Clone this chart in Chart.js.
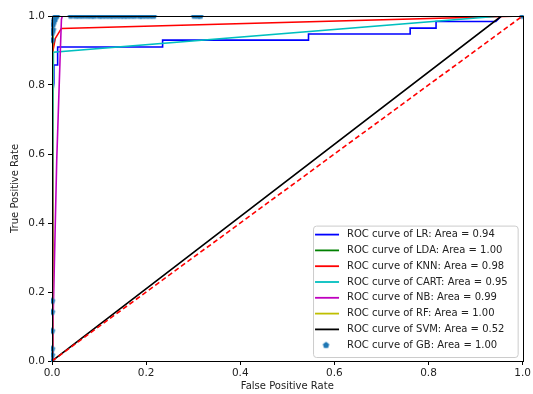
<!DOCTYPE html>
<html>
<head>
<meta charset="utf-8">
<script src="https://cdn.jsdelivr.net/npm/chart.js@4.4.1/dist/chart.umd.min.js"></script>
<style>
  html, body { margin: 0; padding: 0; background: #fff; }
  #wrap { position: relative; width: 533px; height: 394px; }
</style>
</head>
<body>
<div id="wrap"><canvas id="roc"></canvas></div>
<script>
// ROC curves
const modelNames = ["LR", "LDA", "KNN", "CART", "NB", "RF", "SVM", "GB"];
const modelAuc = ["0.94", "1.00", "0.98", "0.95", "0.99", "1.00", "0.52", "1.00"];

const lrFpr = [0, 0, 0.004, 0.004, 0.012, 0.012, 0.235, 0.235, 0.545, 0.545, 0.761, 0.761, 0.816, 0.816, 0.943, 0.955, 1];
const lrTpr = [0, 0.76, 0.805, 0.858, 0.858, 0.91, 0.91, 0.93, 0.93, 0.948, 0.948, 0.965, 0.965, 0.984, 0.984, 1, 1];

const ldaFpr = [0, 0.002, 0.002, 0.004, 1];
const ldaTpr = [0, 0.02, 0.99, 1, 1];

const knnFpr = [0, 0.002, 0.007, 0.02, 1];
const knnTpr = [0, 0.9, 0.935, 0.964, 1];

const cartFpr = [0, 0.003, 0.954, 1];
const cartTpr = [0, 0.895, 1, 1];

const nbFpr = [0, 0.002, 0.01, 0.017, 0.02, 0.022, 1];
const nbTpr = [0, 0.1, 0.58, 0.87, 0.99, 1, 1];

const rfFpr = [0, 0, 0.002, 0.004, 1];
const rfTpr = [0, 0.9, 0.95, 1, 1];

const svmFpr = [0, 0.955, 1];
const svmTpr = [0, 1, 1];

const gbFpr = [0, 0, 0, 0, 0, 0, 0, 0, 0.002, 0.002, 0.004, 0.006, 0.008, 0.01,
  0.04, 0.05, 0.058, 0.066, 0.075, 0.083, 0.09, 0.1, 0.107, 0.115, 0.123, 0.13,
  0.138, 0.146, 0.153, 0.16, 0.168, 0.176, 0.186, 0.192, 0.2, 0.208, 0.216,
  0.302, 0.31, 0.315, 1];
const gbTpr = [0, 0.017, 0.035, 0.087, 0.142, 0.174, 0.93, 0.95, 0.96, 0.975, 0.985, 0.99, 1, 1,
  1, 1, 1, 1, 1, 1, 1, 1, 1, 1, 1, 1,
  1, 1, 1, 1, 1, 1, 1, 1, 1, 1, 1,
  1, 1, 1, 1];

const chanceFpr = [0, 1];
const chanceTpr = [0, 1];

const xTicks = [0, 0.2, 0.4, 0.6, 0.8, 1.0];
const yTicks = [0, 0.2, 0.4, 0.6, 0.8, 1.0];

const COLORS = {
  LR: "#0000ff",
  LDA: "#008000",
  KNN: "#ff0000",
  CART: "#00bfbf",
  NB: "#bf00bf",
  RF: "#bfbf00",
  SVM: "#000000",
  GB: "#1f77b4",
};

const FONT = "'DejaVu Sans', sans-serif";

function pts(xs, ys) {
  return xs.map((x, i) => ({ x, y: ys[i] }));
}

// matplotlib 'p' marker
function pentagon(r, color) {
  const c = document.createElement("canvas");
  const s = Math.ceil(r * 2 + 2);
  c.width = s; c.height = s;
  const g = c.getContext("2d");
  g.fillStyle = color;
  g.beginPath();
  for (let k = 0; k < 5; k++) {
    const a = -Math.PI / 2 + k * 2 * Math.PI / 5;
    const px = s / 2 + r * Math.cos(a), py = s / 2 + r * Math.sin(a);
    k ? g.lineTo(px, py) : g.moveTo(px, py);
  }
  g.closePath();
  g.fill();
  return c;
}
const gbMarker = pentagon(3.4, COLORS.GB);

const curves = [
  [lrFpr, lrTpr], [ldaFpr, ldaTpr], [knnFpr, knnTpr], [cartFpr, cartTpr],
  [nbFpr, nbTpr], [rfFpr, rfTpr], [svmFpr, svmTpr], [gbFpr, gbTpr],
];

const datasets = modelNames.map((name, i) => {
  const isGB = name === "GB";
  return {
    label: `ROC curve of ${name}: Area = ${modelAuc[i]}`,
    data: pts(curves[i][0], curves[i][1]),
    borderColor: COLORS[name],
    backgroundColor: COLORS[name],
    borderWidth: 1.6,
    showLine: !isGB,
    pointRadius: isGB ? 3.4 : 0,
    pointStyle: isGB ? gbMarker : "circle",
    clip: isGB ? 1 : undefined,
    order: 20 - i, // later series drawn on top, like pyplot
  };
});
datasets.push({
  label: "",
  data: pts(chanceFpr, chanceTpr),
  borderColor: "#ff0000",
  borderWidth: 1.6,
  borderDash: [5, 3],
  showLine: true,
  pointRadius: 0,
  order: 1,
});

// legend box in the lower right of the axes
const innerLegend = {
  id: "innerLegend",
  afterDraw(chart) {
    const { ctx, chartArea } = chart;
    const items = chart.data.datasets.filter(d => d.label);
    ctx.save();
    ctx.font = `10px ${FONT}`;
    const textW = Math.max(...items.map(d => ctx.measureText(d.label).width));
    const rowH = 15.8;
    const w = textW + 44, h = items.length * rowH + 5;
    const x0 = chartArea.right - 5 - w, y0 = chartArea.bottom - 4 - h;
    ctx.fillStyle = "rgba(255,255,255,0.85)";
    ctx.strokeStyle = "#cccccc";
    ctx.lineWidth = 1;
    ctx.beginPath();
    ctx.roundRect(x0 + 0.5, y0 + 0.5, w, h, 3);
    ctx.fill();
    ctx.stroke();
    items.forEach((d, i) => {
      const cy = y0 + 9 + i * rowH;
      if (d.showLine === false) {
        ctx.drawImage(d.pointStyle, x0 + 13 - d.pointStyle.width / 2, cy - d.pointStyle.height / 2);
      } else {
        ctx.strokeStyle = d.borderColor;
        ctx.lineWidth = 1.8;
        ctx.beginPath();
        ctx.moveTo(x0 + 2, cy);
        ctx.lineTo(x0 + 26, cy);
        ctx.stroke();
      }
      ctx.fillStyle = "#222";
      ctx.textBaseline = "middle";
      ctx.fillText(d.label, x0 + 34, cy);
    });
    ctx.restore();
  },
};

// full box around the axes, on top of the curves
const frame = {
  id: "frame",
  afterDatasetsDraw(chart) {
    const { ctx, chartArea: a } = chart;
    ctx.save();
    ctx.strokeStyle = "#000";
    ctx.lineWidth = 1;
    ctx.strokeRect(Math.round(a.left) + 0.5, Math.round(a.top) + 0.5,
      Math.round(a.right - a.left), Math.round(a.bottom - a.top));
    ctx.restore();
  },
};

const tickFmt = v => Number(v).toFixed(1);

new Chart(document.getElementById("roc"), {
  type: "scatter",
  data: { datasets },
  plugins: [frame, innerLegend],
  options: {
    responsive: true,
    maintainAspectRatio: false,
    animation: false,
    layout: { padding: { top: 16, right: 8, left: 0, bottom: 0 } },
    plugins: {
      legend: { display: false },
      tooltip: { enabled: false },
    },
    scales: {
      x: {
        type: "linear",
        min: 0,
        max: 1,
        afterBuildTicks: s => { s.ticks = xTicks.map(v => ({ value: v })); },
        afterFit: s => { s.height = 33; },
        ticks: { color: "#222", font: { family: FONT, size: 10.5 }, padding: 2, callback: tickFmt, maxRotation: 0 },
        grid: { drawOnChartArea: false, drawTicks: true, tickLength: 4, color: "#000" },
        border: { display: false },
        title: { display: true, text: "False Positive Rate", color: "#222", font: { family: FONT, size: 10 }, padding: { top: 0, bottom: 2 } },
      },
      y: {
        type: "linear",
        min: 0,
        max: 1,
        afterBuildTicks: s => { s.ticks = yTicks.map(v => ({ value: v })); },
        afterFit: s => { s.width = 52; },
        ticks: { color: "#222", font: { family: FONT, size: 10.5 }, padding: 3, callback: tickFmt },
        grid: { drawOnChartArea: false, drawTicks: true, tickLength: 4, color: "#000" },
        border: { display: false },
        title: { display: true, text: "True Positive Rate", color: "#222", font: { family: FONT, size: 10 }, padding: { top: 9, bottom: 4 } },
      },
    },
  },
});
</script>
</body>
</html>
